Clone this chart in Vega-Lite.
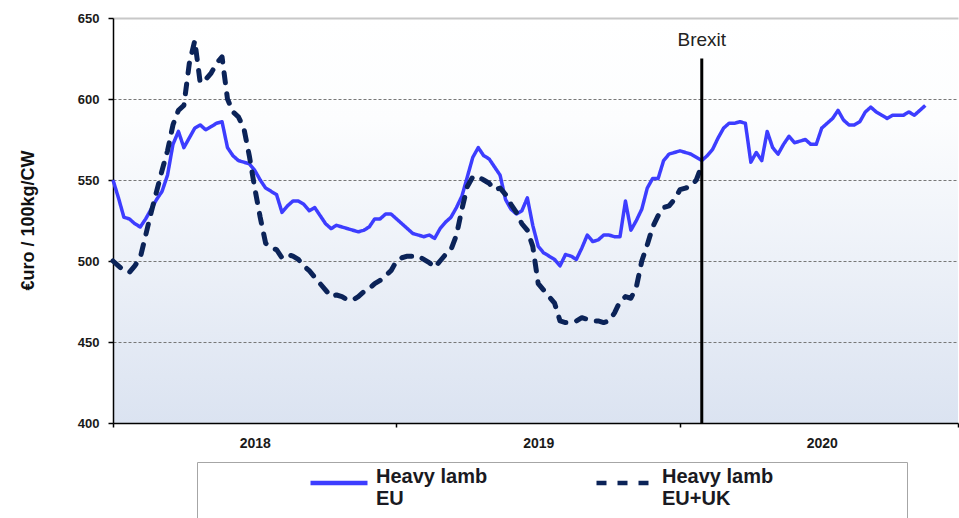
{
  "$schema": "https://vega.github.io/schema/vega-lite/v6.json",
  "width": 845,
  "height": 405,
  "autosize": {"type": "none"},
  "padding": {"left": 113, "top": 18, "right": 1, "bottom": 95},
  "background": "white",
  "config": {
    "font": "Liberation Sans",
    "view": {
      "stroke": null,
      "fill": {"gradient": "linear", "x1": 0, "y1": 0, "x2": 0, "y2": 1,
        "stops": [{"offset": 0, "color": "#ffffff"}, {"offset": 0.25, "color": "#fcfdfe"}, {"offset": 1, "color": "#dbe3f1"}]}
    },
    "legend": {
      "orient": "none",
      "legendX": 84,
      "legendY": 444,
      "direction": "horizontal",
      "fillColor": "white",
      "strokeColor": "#a6a6a6",
      "padding": 12,
      "clipHeight": 18,
      "symbolType": "stroke",
      "symbolSize": 3249,
      "symbolStrokeWidth": 4.5,
      "symbolOffset": 99,
      "labelFont": "Liberation Sans",
      "labelFontSize": 20,
      "labelFontWeight": "bold",
      "labelColor": "#1a1a22",
      "labelBaseline": "alphabetic",
      "labelOffset": 6,
      "labelLimit": 600,
      "columnPadding": 7,
      "titleOrient": "right",
      "titlePadding": 122,
      "titleFontSize": 12
    }
  },
  "datasets": {
    "prices": [
      {"week":0,"series":"Heavy lamb EU","value":550},{"week":1,"series":"Heavy lamb EU","value":539},{"week":2,"series":"Heavy lamb EU","value":527},{"week":3,"series":"Heavy lamb EU","value":526},{"week":4,"series":"Heavy lamb EU","value":523},{"week":5,"series":"Heavy lamb EU","value":521},{"week":6,"series":"Heavy lamb EU","value":526},{"week":7,"series":"Heavy lamb EU","value":532},{"week":8,"series":"Heavy lamb EU","value":538},{"week":9,"series":"Heavy lamb EU","value":543},
      {"week":10,"series":"Heavy lamb EU","value":553},{"week":11,"series":"Heavy lamb EU","value":572},{"week":12,"series":"Heavy lamb EU","value":580},{"week":13,"series":"Heavy lamb EU","value":570},{"week":14,"series":"Heavy lamb EU","value":576},{"week":15,"series":"Heavy lamb EU","value":582},{"week":16,"series":"Heavy lamb EU","value":584},{"week":17,"series":"Heavy lamb EU","value":581},{"week":18,"series":"Heavy lamb EU","value":583},{"week":19,"series":"Heavy lamb EU","value":585},
      {"week":20,"series":"Heavy lamb EU","value":586},{"week":21,"series":"Heavy lamb EU","value":570},{"week":22,"series":"Heavy lamb EU","value":565},{"week":23,"series":"Heavy lamb EU","value":562},{"week":24,"series":"Heavy lamb EU","value":561},{"week":25,"series":"Heavy lamb EU","value":560},{"week":26,"series":"Heavy lamb EU","value":556},{"week":27,"series":"Heavy lamb EU","value":550},{"week":28,"series":"Heavy lamb EU","value":545},{"week":29,"series":"Heavy lamb EU","value":543},
      {"week":30,"series":"Heavy lamb EU","value":541},{"week":31,"series":"Heavy lamb EU","value":530},{"week":32,"series":"Heavy lamb EU","value":534},{"week":33,"series":"Heavy lamb EU","value":537},{"week":34,"series":"Heavy lamb EU","value":537},{"week":35,"series":"Heavy lamb EU","value":535},{"week":36,"series":"Heavy lamb EU","value":531},{"week":37,"series":"Heavy lamb EU","value":533},{"week":38,"series":"Heavy lamb EU","value":528},{"week":39,"series":"Heavy lamb EU","value":523},
      {"week":40,"series":"Heavy lamb EU","value":520},{"week":41,"series":"Heavy lamb EU","value":522},{"week":42,"series":"Heavy lamb EU","value":521},{"week":43,"series":"Heavy lamb EU","value":520},{"week":44,"series":"Heavy lamb EU","value":519},{"week":45,"series":"Heavy lamb EU","value":518},{"week":46,"series":"Heavy lamb EU","value":519},{"week":47,"series":"Heavy lamb EU","value":521},{"week":48,"series":"Heavy lamb EU","value":526},{"week":49,"series":"Heavy lamb EU","value":526},
      {"week":50,"series":"Heavy lamb EU","value":529},{"week":51,"series":"Heavy lamb EU","value":529},{"week":52,"series":"Heavy lamb EU","value":526},{"week":53,"series":"Heavy lamb EU","value":523},{"week":54,"series":"Heavy lamb EU","value":520},{"week":55,"series":"Heavy lamb EU","value":517},{"week":56,"series":"Heavy lamb EU","value":516},{"week":57,"series":"Heavy lamb EU","value":515},{"week":58,"series":"Heavy lamb EU","value":516},{"week":59,"series":"Heavy lamb EU","value":514},
      {"week":60,"series":"Heavy lamb EU","value":520},{"week":61,"series":"Heavy lamb EU","value":524},{"week":62,"series":"Heavy lamb EU","value":527},{"week":63,"series":"Heavy lamb EU","value":533},{"week":64,"series":"Heavy lamb EU","value":540},{"week":65,"series":"Heavy lamb EU","value":552},{"week":66,"series":"Heavy lamb EU","value":564},{"week":67,"series":"Heavy lamb EU","value":570},{"week":68,"series":"Heavy lamb EU","value":565},{"week":69,"series":"Heavy lamb EU","value":563},
      {"week":70,"series":"Heavy lamb EU","value":558},{"week":71,"series":"Heavy lamb EU","value":553},{"week":72,"series":"Heavy lamb EU","value":538},{"week":73,"series":"Heavy lamb EU","value":532},{"week":74,"series":"Heavy lamb EU","value":529},{"week":75,"series":"Heavy lamb EU","value":531},{"week":76,"series":"Heavy lamb EU","value":539},{"week":77,"series":"Heavy lamb EU","value":522},{"week":78,"series":"Heavy lamb EU","value":509},{"week":79,"series":"Heavy lamb EU","value":505},
      {"week":80,"series":"Heavy lamb EU","value":503},{"week":81,"series":"Heavy lamb EU","value":501},{"week":82,"series":"Heavy lamb EU","value":497},{"week":83,"series":"Heavy lamb EU","value":504},{"week":84,"series":"Heavy lamb EU","value":503},{"week":85,"series":"Heavy lamb EU","value":501},{"week":86,"series":"Heavy lamb EU","value":508},{"week":87,"series":"Heavy lamb EU","value":516},{"week":88,"series":"Heavy lamb EU","value":512},{"week":89,"series":"Heavy lamb EU","value":513},
      {"week":90,"series":"Heavy lamb EU","value":516},{"week":91,"series":"Heavy lamb EU","value":516},{"week":92,"series":"Heavy lamb EU","value":515},{"week":93,"series":"Heavy lamb EU","value":515},{"week":94,"series":"Heavy lamb EU","value":537},{"week":95,"series":"Heavy lamb EU","value":519},{"week":96,"series":"Heavy lamb EU","value":525},{"week":97,"series":"Heavy lamb EU","value":532},{"week":98,"series":"Heavy lamb EU","value":545},{"week":99,"series":"Heavy lamb EU","value":551},
      {"week":100,"series":"Heavy lamb EU","value":551},{"week":101,"series":"Heavy lamb EU","value":562},{"week":102,"series":"Heavy lamb EU","value":566},{"week":103,"series":"Heavy lamb EU","value":567},{"week":104,"series":"Heavy lamb EU","value":568},{"week":105,"series":"Heavy lamb EU","value":567},{"week":106,"series":"Heavy lamb EU","value":566},{"week":107,"series":"Heavy lamb EU","value":564},{"week":108,"series":"Heavy lamb EU","value":562},{"week":109,"series":"Heavy lamb EU","value":565},
      {"week":110,"series":"Heavy lamb EU","value":569},{"week":111,"series":"Heavy lamb EU","value":576},{"week":112,"series":"Heavy lamb EU","value":582},{"week":113,"series":"Heavy lamb EU","value":585},{"week":114,"series":"Heavy lamb EU","value":585},{"week":115,"series":"Heavy lamb EU","value":586},{"week":116,"series":"Heavy lamb EU","value":585},{"week":117,"series":"Heavy lamb EU","value":561},{"week":118,"series":"Heavy lamb EU","value":567},{"week":119,"series":"Heavy lamb EU","value":562},
      {"week":120,"series":"Heavy lamb EU","value":580},{"week":121,"series":"Heavy lamb EU","value":570},{"week":122,"series":"Heavy lamb EU","value":566},{"week":123,"series":"Heavy lamb EU","value":572},{"week":124,"series":"Heavy lamb EU","value":577},{"week":125,"series":"Heavy lamb EU","value":573},{"week":126,"series":"Heavy lamb EU","value":574},{"week":127,"series":"Heavy lamb EU","value":575},{"week":128,"series":"Heavy lamb EU","value":572},{"week":129,"series":"Heavy lamb EU","value":572},
      {"week":130,"series":"Heavy lamb EU","value":582},{"week":131,"series":"Heavy lamb EU","value":585},{"week":132,"series":"Heavy lamb EU","value":588},{"week":133,"series":"Heavy lamb EU","value":593},{"week":134,"series":"Heavy lamb EU","value":587},{"week":135,"series":"Heavy lamb EU","value":584},{"week":136,"series":"Heavy lamb EU","value":584},{"week":137,"series":"Heavy lamb EU","value":586},{"week":138,"series":"Heavy lamb EU","value":592},{"week":139,"series":"Heavy lamb EU","value":595},
      {"week":140,"series":"Heavy lamb EU","value":592},{"week":141,"series":"Heavy lamb EU","value":590},{"week":142,"series":"Heavy lamb EU","value":588},{"week":143,"series":"Heavy lamb EU","value":590},{"week":144,"series":"Heavy lamb EU","value":590},{"week":145,"series":"Heavy lamb EU","value":590},{"week":146,"series":"Heavy lamb EU","value":592},{"week":147,"series":"Heavy lamb EU","value":590},{"week":148,"series":"Heavy lamb EU","value":593},{"week":149,"series":"Heavy lamb EU","value":596},
      {"week":0,"series":"Heavy lamb EU+UK","value":500},{"week":1,"series":"Heavy lamb EU+UK","value":497},{"week":2,"series":"Heavy lamb EU+UK","value":494},{"week":3,"series":"Heavy lamb EU+UK","value":493},{"week":4,"series":"Heavy lamb EU+UK","value":497},{"week":5,"series":"Heavy lamb EU+UK","value":502},{"week":6,"series":"Heavy lamb EU+UK","value":516},{"week":7,"series":"Heavy lamb EU+UK","value":530},{"week":8,"series":"Heavy lamb EU+UK","value":543},{"week":9,"series":"Heavy lamb EU+UK","value":556},
      {"week":10,"series":"Heavy lamb EU+UK","value":568},{"week":11,"series":"Heavy lamb EU+UK","value":584},{"week":12,"series":"Heavy lamb EU+UK","value":593},{"week":13,"series":"Heavy lamb EU+UK","value":596},{"week":14,"series":"Heavy lamb EU+UK","value":622},{"week":15,"series":"Heavy lamb EU+UK","value":636},{"week":16,"series":"Heavy lamb EU+UK","value":610},{"week":17,"series":"Heavy lamb EU+UK","value":612},{"week":18,"series":"Heavy lamb EU+UK","value":616},{"week":19,"series":"Heavy lamb EU+UK","value":622},
      {"week":20,"series":"Heavy lamb EU+UK","value":626},{"week":21,"series":"Heavy lamb EU+UK","value":600},{"week":22,"series":"Heavy lamb EU+UK","value":592},{"week":23,"series":"Heavy lamb EU+UK","value":589},{"week":24,"series":"Heavy lamb EU+UK","value":582},{"week":25,"series":"Heavy lamb EU+UK","value":565},{"week":26,"series":"Heavy lamb EU+UK","value":545},{"week":27,"series":"Heavy lamb EU+UK","value":527},{"week":28,"series":"Heavy lamb EU+UK","value":511},{"week":29,"series":"Heavy lamb EU+UK","value":508},
      {"week":30,"series":"Heavy lamb EU+UK","value":507},{"week":31,"series":"Heavy lamb EU+UK","value":502},{"week":32,"series":"Heavy lamb EU+UK","value":504},{"week":33,"series":"Heavy lamb EU+UK","value":503},{"week":34,"series":"Heavy lamb EU+UK","value":501},{"week":35,"series":"Heavy lamb EU+UK","value":497},{"week":36,"series":"Heavy lamb EU+UK","value":494},{"week":37,"series":"Heavy lamb EU+UK","value":490},{"week":38,"series":"Heavy lamb EU+UK","value":486},{"week":39,"series":"Heavy lamb EU+UK","value":482},
      {"week":40,"series":"Heavy lamb EU+UK","value":478},{"week":41,"series":"Heavy lamb EU+UK","value":479},{"week":42,"series":"Heavy lamb EU+UK","value":478},{"week":43,"series":"Heavy lamb EU+UK","value":476},{"week":44,"series":"Heavy lamb EU+UK","value":476},{"week":45,"series":"Heavy lamb EU+UK","value":478},{"week":46,"series":"Heavy lamb EU+UK","value":481},{"week":47,"series":"Heavy lamb EU+UK","value":483},{"week":48,"series":"Heavy lamb EU+UK","value":486},{"week":49,"series":"Heavy lamb EU+UK","value":488},
      {"week":50,"series":"Heavy lamb EU+UK","value":491},{"week":51,"series":"Heavy lamb EU+UK","value":494},{"week":52,"series":"Heavy lamb EU+UK","value":500},{"week":53,"series":"Heavy lamb EU+UK","value":502},{"week":54,"series":"Heavy lamb EU+UK","value":503},{"week":55,"series":"Heavy lamb EU+UK","value":503},{"week":56,"series":"Heavy lamb EU+UK","value":503},{"week":57,"series":"Heavy lamb EU+UK","value":501},{"week":58,"series":"Heavy lamb EU+UK","value":499},{"week":59,"series":"Heavy lamb EU+UK","value":496},
      {"week":60,"series":"Heavy lamb EU+UK","value":500},{"week":61,"series":"Heavy lamb EU+UK","value":504},{"week":62,"series":"Heavy lamb EU+UK","value":507},{"week":63,"series":"Heavy lamb EU+UK","value":516},{"week":64,"series":"Heavy lamb EU+UK","value":532},{"week":65,"series":"Heavy lamb EU+UK","value":546},{"week":66,"series":"Heavy lamb EU+UK","value":552},{"week":67,"series":"Heavy lamb EU+UK","value":552},{"week":68,"series":"Heavy lamb EU+UK","value":550},{"week":69,"series":"Heavy lamb EU+UK","value":548},
      {"week":70,"series":"Heavy lamb EU+UK","value":544},{"week":71,"series":"Heavy lamb EU+UK","value":545},{"week":72,"series":"Heavy lamb EU+UK","value":541},{"week":73,"series":"Heavy lamb EU+UK","value":535},{"week":74,"series":"Heavy lamb EU+UK","value":530},{"week":75,"series":"Heavy lamb EU+UK","value":523},{"week":76,"series":"Heavy lamb EU+UK","value":519},{"week":77,"series":"Heavy lamb EU+UK","value":509},{"week":78,"series":"Heavy lamb EU+UK","value":486},{"week":79,"series":"Heavy lamb EU+UK","value":482},
      {"week":80,"series":"Heavy lamb EU+UK","value":478},{"week":81,"series":"Heavy lamb EU+UK","value":474},{"week":82,"series":"Heavy lamb EU+UK","value":463},{"week":83,"series":"Heavy lamb EU+UK","value":462},{"week":84,"series":"Heavy lamb EU+UK","value":462},{"week":85,"series":"Heavy lamb EU+UK","value":463},{"week":86,"series":"Heavy lamb EU+UK","value":465},{"week":87,"series":"Heavy lamb EU+UK","value":464},{"week":88,"series":"Heavy lamb EU+UK","value":463},{"week":89,"series":"Heavy lamb EU+UK","value":463},
      {"week":90,"series":"Heavy lamb EU+UK","value":462},{"week":91,"series":"Heavy lamb EU+UK","value":463},{"week":92,"series":"Heavy lamb EU+UK","value":468},{"week":93,"series":"Heavy lamb EU+UK","value":475},{"week":94,"series":"Heavy lamb EU+UK","value":478},{"week":95,"series":"Heavy lamb EU+UK","value":477},{"week":96,"series":"Heavy lamb EU+UK","value":484},{"week":97,"series":"Heavy lamb EU+UK","value":500},{"week":98,"series":"Heavy lamb EU+UK","value":510},{"week":99,"series":"Heavy lamb EU+UK","value":521},
      {"week":100,"series":"Heavy lamb EU+UK","value":528},{"week":101,"series":"Heavy lamb EU+UK","value":533},{"week":102,"series":"Heavy lamb EU+UK","value":534},{"week":103,"series":"Heavy lamb EU+UK","value":538},{"week":104,"series":"Heavy lamb EU+UK","value":544},{"week":105,"series":"Heavy lamb EU+UK","value":545},{"week":106,"series":"Heavy lamb EU+UK","value":546},{"week":107,"series":"Heavy lamb EU+UK","value":550},{"week":108,"series":"Heavy lamb EU+UK","value":559}
    ],
    "events": [
      {"week": 108, "event": "Brexit", "low": 400, "high": 625, "labelAt": 633}
    ]
  },
  "layer": [
    {
      "data": {"name": "prices"},
      "transform": [{"filter": "datum.series == 'Heavy lamb EU'"}],
      "mark": {"type": "line", "strokeWidth": 3.5, "strokeJoin": "round"},
      "encoding": {
        "x": {
          "field": "week", "type": "quantitative",
          "scale": {"domain": [0, 155], "nice": false, "zero": false},
          "axis": {
            "title": null,
            "grid": false,
            "values": [0, 26, 52, 78, 104, 130, 155],
            "labelExpr": "datum.value == 26 ? '2018' : datum.value == 78 ? '2019' : datum.value == 130 ? '2020' : ''",
            "tickOpacity": {"condition": {"test": "datum.value == 0 || datum.value == 52 || datum.value == 104 || datum.value == 155", "value": 1}, "value": 0},
            "tickSize": 4,
            "tickColor": "#000000",
            "tickWidth": 1.5,
            "domainColor": "#000000",
            "domainWidth": 1.5,
            "labelFont": "Liberation Sans",
            "labelFontSize": 14,
            "labelFontWeight": "bold",
            "labelColor": "#1a1a1a",
            "labelPadding": 9,
            "labelFlush": false,
            "labelBound": false,
            "labelOverlap": false
          }
        },
        "y": {
          "field": "value", "type": "quantitative",
          "scale": {"domain": [400, 650], "nice": false, "zero": false},
          "axis": {
            "title": "€uro / 100kg/CW",
            "titleFont": "Liberation Sans",
            "titleFontSize": 18,
            "titleFontWeight": "bold",
            "titleColor": "#111111",
            "titleAngle": 270,
            "titleAlign": "center",
            "titleBaseline": "middle",
            "titleX": -85,
            "titleY": 202,
            "values": [400, 450, 500, 550, 600, 650],
            "grid": true,
            "gridColor": {"condition": {"test": "datum.value == 650", "value": "#c8c8c8"}, "value": "#777777"},
            "gridDash": {"condition": {"test": "datum.value == 650", "value": []}, "value": [3, 2]},
            "gridWidth": {"condition": {"test": "datum.value == 650", "value": 2}, "value": 1},
            "gridOpacity": {"condition": {"test": "datum.value == 400", "value": 0}, "value": 1},
            "tickSize": 5,
            "tickColor": "#000000",
            "tickWidth": 1.5,
            "domainColor": "#000000",
            "domainWidth": 1.5,
            "labelFont": "Liberation Sans",
            "labelFontSize": 13,
            "labelFontWeight": "bold",
            "labelColor": "#1a1a1a",
            "labelPadding": 9
          }
        },
        "color": {
          "field": "series", "type": "nominal",
          "scale": {"domain": ["Heavy lamb EU", "Heavy lamb EU+UK"], "range": ["#3d3dff", "#0b2358"]},
          "legend": {"title": " ", "labelExpr": "['Heavy lamb', replace(datum.label, 'Heavy lamb ', '')]"}
        },
        "strokeDash": {
          "field": "series", "type": "nominal",
          "scale": {"domain": ["Heavy lamb EU", "Heavy lamb EU+UK"], "range": [[1, 0], [10, 11]]},
          "legend": {"title": " ", "labelExpr": "['Heavy lamb', replace(datum.label, 'Heavy lamb ', '')]"}
        }
      }
    },
    {
      "data": {"name": "prices"},
      "transform": [{"filter": "datum.series == 'Heavy lamb EU+UK'"}],
      "mark": {"type": "line", "strokeWidth": 5, "strokeCap": "round", "strokeJoin": "round"},
      "encoding": {
        "x": {"field": "week", "type": "quantitative"},
        "y": {"field": "value", "type": "quantitative"},
        "color": {"field": "series", "type": "nominal"},
        "strokeDash": {"field": "series", "type": "nominal"}
      }
    },
    {
      "data": {"name": "events"},
      "mark": {"type": "rule", "color": "#000000", "strokeWidth": 3},
      "encoding": {
        "x": {"field": "week", "type": "quantitative"},
        "y": {"field": "low", "type": "quantitative"},
        "y2": {"field": "high"}
      }
    },
    {
      "data": {"name": "events"},
      "mark": {"type": "text", "fontSize": 19, "font": "Liberation Sans", "color": "#222222", "baseline": "alphabetic", "align": "center"},
      "encoding": {
        "x": {"field": "week", "type": "quantitative"},
        "y": {"field": "labelAt", "type": "quantitative"},
        "text": {"field": "event"}
      }
    }
  ]
}
